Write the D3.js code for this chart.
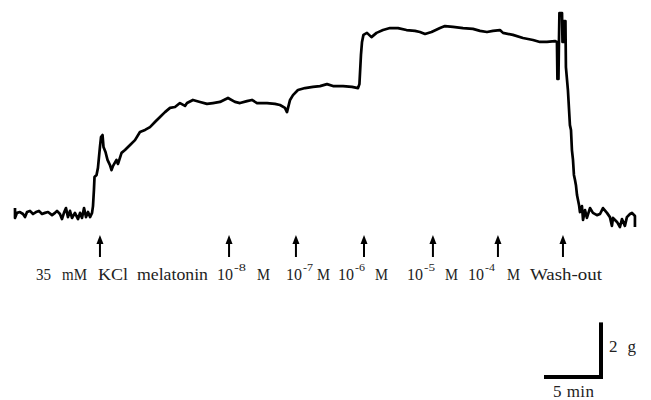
<!DOCTYPE html>
<html>
<head>
<meta charset="utf-8">
<script src="https://cdn.jsdelivr.net/npm/d3@7"></script>
<style>
  html, body { margin: 0; padding: 0; background: #fff; }
</style>
</head>
<body>
<div id="chart"></div>
<script>
// isometric tension trace, time in min, tension in g (0 = resting baseline)
const timeMin = [
  0, 0, 0.17, 0.42, 0.68, 0.85, 1.02, 1.27, 1.53, 1.78, 2.03, 2.29, 2.54, 2.80, 3.14, 3.39, 3.56, 3.81, 3.98, 4.15,
  4.32, 4.49, 4.66, 4.83, 5.08, 5.34, 5.51, 5.68, 5.85, 6.02, 6.19, 6.36, 6.53, 6.61,
  6.69, 6.74, 6.91, 7.03, 7.20, 7.29, 7.42, 7.50, 7.67, 7.84, 8.05, 8.18, 8.31, 8.60, 8.73, 9.03,
  9.32, 9.75, 10.17, 10.59, 11.02, 11.44, 11.86, 12.29, 12.71, 13.14, 13.56, 13.98, 14.41, 14.58, 15.08, 15.68,
  16.27, 16.78, 17.37, 18.05, 18.64, 19.07, 19.66, 20.08, 20.51, 21.36, 22.03, 22.46, 22.88, 23.05, 23.14, 23.31,
  23.56, 23.98, 24.58, 25.25, 25.85, 26.44, 26.95, 27.80, 28.56, 29.07, 29.19, 29.32, 29.41, 29.53, 29.83, 30.21,
  30.64, 31.19, 31.78, 32.46, 33.18, 33.90, 34.32, 34.75, 35.30, 36.02, 36.44, 37.12, 37.97, 38.81, 39.41, 40.00,
  40.51, 41.10, 41.36, 42.20, 43.05, 43.90, 44.49, 45.08, 45.76,
  45.93, 45.97, 46.06, 46.10, 46.14, 46.36, 46.40, 46.48, 46.53, 46.65, 46.69, 46.86, 47.03, 47.12, 47.20, 47.29,
  47.37, 47.46, 47.54, 47.63, 47.80, 47.88,
  48.05, 48.14, 48.31, 48.47, 48.73, 48.98, 49.32, 49.58, 49.83, 50.17, 50.42, 50.59, 50.68, 51.02, 51.27, 51.44,
  51.69, 51.86, 52.12, 52.29, 52.54, 52.54
]
const tensionG = [
  0.21, -0.14, 0.04, 0.07, 0, -0.11, 0.07, 0.11, 0, 0.07, 0.11, 0, 0.04, 0.07, -0.04, 0.04, 0.11, 0, -0.18, 0.04,
  0.21, -0.11, 0.11, -0.14, 0.04, -0.18, 0.04, -0.14, 0.21, -0.11, 0.07, -0.11, 0.04, 0.28,
  0.85, 1.31, 1.38, 1.63, 2.37, 2.72, 2.79, 2.37, 2.19, 1.91, 1.73, 1.55, 1.70, 1.91, 1.77, 2.16,
  2.26, 2.44, 2.61, 2.90, 2.97, 3.07, 3.25, 3.43, 3.60, 3.75, 3.78, 3.92, 3.82, 3.92, 4.03, 3.96,
  3.89, 3.92, 3.96, 4.10, 3.96, 3.92, 3.99, 4.03, 3.92, 3.92, 3.89, 3.85, 3.75, 3.60, 3.75, 4.03,
  4.20, 4.38, 4.45, 4.49, 4.52, 4.59, 4.52, 4.52, 4.49, 4.45, 4.59, 5.62, 6.08, 6.33, 6.40, 6.25,
  6.40, 6.50, 6.57, 6.57, 6.50, 6.47, 6.43, 6.36, 6.43, 6.57, 6.64, 6.61, 6.57, 6.54, 6.47, 6.43,
  6.47, 6.50, 6.40, 6.33, 6.22, 6.15, 6.08, 6.08, 6.11,
  6.08, 4.77, 4.77, 6.08, 7.10, 7.10, 6.08, 6.08, 6.82, 6.82, 5.19, 4.38, 3.14, 2.97, 2.26, 1.91,
  1.38, 1.20, 1.02, 0.67, 0.32, 0.07,
  0.28, -0.21, 0.14, -0.14, 0.21, 0.04, -0.04, 0, 0.21, 0.04, -0.11, -0.42, -0.14, -0.28, -0.46, -0.18,
  -0.42, -0.11, 0, 0.04, -0.07, -0.46
]

// drug additions (min)
const eventTimes = [7.20, 18.14, 23.81, 29.58, 35.42, 40.93, 46.44]

// label pieces under the arrows: text, left x, width, superscript flag
const labelText = ['35', 'mM', 'KCl', 'melatonin', '10', '-8', 'M', '10', '-7', 'M', '10', '-6', 'M',
  '10', '-5', 'M', '10', '-4', 'M', 'Wash-out']
const labelLeft = [36, 62, 98, 137, 217, 234, 257, 286, 303, 317, 338, 355, 375, 407, 424, 445, 468, 485, 507, 530]
const labelWidth = [15, 25, 30, 71, 16, 12, 13, 16, 10, 13, 16, 10, 13, 16, 11, 13, 16, 10, 13, 72]
const labelSup = [0, 0, 0, 0, 0, 1, 0, 0, 1, 0, 0, 1, 0, 0, 1, 0, 0, 1, 0, 0]

const scaleBarMin = 5
const scaleBarG = 2

const width = 651, height = 400

const svg = d3.select('#chart').append('svg')
  .attr('xmlns', 'http://www.w3.org/2000/svg')
  .attr('width', width)
  .attr('height', height)
  .style('display', 'block')
  .style('background', '#fff')

const x = d3.scaleLinear().domain([0, 52.63]).range([15, 636])
const y = d3.scaleLinear().domain([0, 7.5]).range([214, 214 - 7.5 * 28.3])

const trace = d3.zip(timeMin, tensionG)
const line = d3.line().x((d) => x(d[0])).y((d) => y(d[1]))

svg.append('path').datum(trace)
  .attr('fill', 'none').attr('stroke', '#000')
  .attr('stroke-width', 2.7).attr('stroke-linejoin', 'round').attr('stroke-linecap', 'butt')
  .attr('d', line)

// arrows
const arrows = svg.selectAll('.arrow').data(eventTimes).join('g')
  .attr('class', 'arrow')
  .attr('transform', (d) => `translate(${x(d)},0)`)
arrows.append('line')
  .attr('x1', 0).attr('x2', 0).attr('y1', 242).attr('y2', 257)
  .attr('stroke', '#000').attr('stroke-width', 2)
arrows.append('path')
  .attr('d', 'M0,235 L-3.5,244 L3.5,244 Z')
  .attr('fill', '#000')

// labels
const labels = svg.append('g')
  .attr('font-family', '"Liberation Serif", "DejaVu Serif", serif')
  .attr('fill', '#222')
labelText.forEach((t, i) => {
  const sup = labelSup[i] === 1
  labels.append('text')
    .attr('x', labelLeft[i])
    .attr('y', sup ? 271 : 280)
    .attr('font-size', sup ? 11 : 17)
    .attr('textLength', labelWidth[i])
    .attr('lengthAdjust', 'spacingAndGlyphs')
    .text(t)
})

// scale bars
const corner = [603, 379]
const barW = x(scaleBarMin) - x(0)
const barH = y(0) - y(scaleBarG)
svg.append('rect')
  .attr('x', corner[0] - barW).attr('y', corner[1] - 4)
  .attr('width', barW).attr('height', 4).attr('fill', '#000')
svg.append('rect')
  .attr('x', corner[0] - 4).attr('y', corner[1] - barH)
  .attr('width', 4).attr('height', barH).attr('fill', '#000')

svg.append('text')
  .attr('x', 609).attr('y', 352)
  .attr('font-family', '"Liberation Serif", "DejaVu Serif", serif')
  .attr('font-size', 17).attr('fill', '#222')
  .attr('textLength', 27).attr('lengthAdjust', 'spacing')
  .text(`${scaleBarG} g`)
svg.append('text')
  .attr('x', 553).attr('y', 397)
  .attr('font-family', '"Liberation Serif", "DejaVu Serif", serif')
  .attr('font-size', 17).attr('fill', '#222')
  .attr('textLength', 41).attr('lengthAdjust', 'spacing')
  .text(`${scaleBarMin} min`)
</script>
</body>
</html>
